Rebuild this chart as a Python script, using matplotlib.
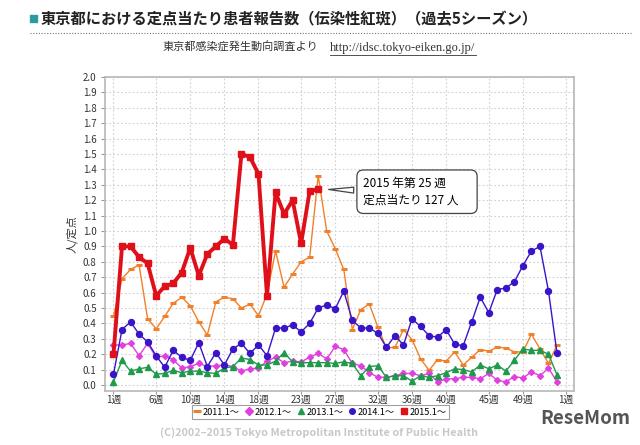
import matplotlib.pyplot as plt
from matplotlib.lines import Line2D
from matplotlib.patches import Rectangle
import numpy as np

plt.rcParams['font.family'] = ['Noto Sans CJK JP', 'DejaVu Sans']

# 週ごとの定点当たり報告数（1週〜53週）
s2011 = [0.445, 0.69, 0.75, 0.78, 0.43, 0.365, 0.445, 0.53, 0.57, 0.515, 0.41, 0.325, 0.54,
         0.57, 0.56, 0.50, 0.525, 0.45, 0.59, 0.87, 0.635, 0.72, 0.80, 0.83, 1.36, 1.00,
         0.885, 0.75, 0.36, 0.49, 0.525, 0.375, 0.24, 0.245, 0.36, 0.295, 0.17, 0.095,
         0.165, 0.155, 0.215, 0.13, 0.18, 0.23, 0.22, 0.245, 0.24, 0.215, 0.215, 0.33,
         0.235, 0.14, 0.26]
s2012 = [0.26, 0.26, 0.27, 0.19, 0.27, 0.18, 0.19, 0.165, 0.11, 0.12, 0.14, 0.12, 0.125,
         0.13, 0.12, 0.09, 0.105, 0.11, 0.155, 0.18, 0.145, 0.155, 0.15, 0.18, 0.205, 0.17,
         0.25, 0.23, 0.14, 0.125, 0.08, 0.05, 0.05, 0.06, 0.075, 0.075, 0.06, 0.075, 0.02,
         0.04, 0.04, 0.05, 0.05, 0.04, 0.075, 0.03, 0.02, 0.055, 0.045, 0.085, 0.06, 0.11,
         0.02]
s2013 = [0.02, 0.16, 0.09, 0.105, 0.115, 0.07, 0.075, 0.095, 0.08, 0.09, 0.09, 0.08, 0.075,
         0.11, 0.12, 0.175, 0.165, 0.13, 0.13, 0.155, 0.21, 0.15, 0.145, 0.145, 0.145, 0.145,
         0.14, 0.15, 0.14, 0.06, 0.12, 0.125, 0.05, 0.06, 0.06, 0.025, 0.06, 0.05, 0.06,
         0.08, 0.105, 0.10, 0.085, 0.13, 0.105, 0.13, 0.09, 0.16, 0.235, 0.225, 0.225, 0.20,
         0.065]
s2014 = [0.07, 0.36, 0.41, 0.33, 0.28, 0.19, 0.115, 0.225, 0.18, 0.16, 0.275, 0.12, 0.21,
         0.13, 0.235, 0.27, 0.205, 0.26, 0.19, 0.37, 0.37, 0.39, 0.345, 0.40, 0.50, 0.52,
         0.495, 0.61, 0.42, 0.37, 0.37, 0.335, 0.245, 0.32, 0.26, 0.43, 0.38, 0.32, 0.31,
         0.36, 0.265, 0.255, 0.41, 0.57, 0.47, 0.62, 0.63, 0.67, 0.775, 0.87, 0.90, 0.61,
         0.205]
s2015 = [0.20, 0.90, 0.90, 0.83, 0.79, 0.58, 0.64, 0.66, 0.73, 0.89, 0.71, 0.85, 0.90,
         0.95, 0.91, 1.50, 1.48, 1.37, 0.58, 1.25, 1.11, 1.20, 0.92, 1.26, 1.27]

labels = ['2011.1～', '2012.1～', '2013.1～', '2014.1～', '2015.1～']
tick_weeks = [1, 6, 10, 14, 18, 23, 27, 32, 36, 40, 45, 49, 54]
tick_labels = ['1週', '6週', '10週', '14週', '18週', '23週', '27週', '32週', '36週',
               '40週', '45週', '49週', '1週']

fig = plt.figure(figsize=(6.4, 4.45), dpi=100)
ax = fig.add_axes([0.164, 0.121, 0.733, 0.706])

styles = [
    dict(color='#f0802a', marker='_', ms=4.5, mew=2.2, lw=1.0),
    dict(color='#e040e0', marker='D', ms=3, lw=1.0),
    dict(color='#1f9a4a', marker='^', ms=3.8, lw=1.0),
    dict(color='#3a14c8', marker='o', ms=4.3, lw=1.0),
    dict(color='#e0101a', marker='s', ms=4.3, lw=2.8),
]
series = [s2011, s2012, s2013, s2014, s2015]
for data, st in zip(series, styles):
    x = np.arange(1, len(data) + 1)
    ax.plot(x, data, **st, zorder=3)

ax.set_xlim(0, 55)
ax.set_ylim(-0.04, 2.0)
ax.set_yticks(np.arange(0, 2.01, 0.1))
ax.set_yticklabels(['%.1f' % v for v in np.arange(0, 2.01, 0.1)], fontsize=7, color='#333333')
ax.set_xticks(tick_weeks)
ax.set_xticklabels(tick_labels, fontsize=7, color='#333333')
ax.tick_params(axis='y', length=3, color='#999999', pad=3)
ax.tick_params(axis='x', length=2, color='#999999', pad=1)
ax.grid(True, linestyle=(0, (1.5, 2)), color='#d0d0d0', lw=0.8)
for sp in ax.spines.values():
    sp.set_color('#b8b8b8')
    sp.set_linewidth(1.2)
ax.set_ylabel('人/定点', fontsize=8, color='#333333', labelpad=4)

# 吹き出し
ax.annotate('2015 年第 25 週\u3000\u3000\n定点当たり 127 人\u3000', xy=(25.9, 1.27),
            xytext=(30.3, 1.255),
            fontsize=8.5, va='center', ha='left', linespacing=1.45,
            bbox=dict(boxstyle='round,pad=0.55', fc='white', ec='#444444', lw=0.9),
            arrowprops=dict(arrowstyle='wedge,tail_width=0.5', fc='white', ec='#444444', lw=0.9),
            zorder=5)

handles = [Line2D([], [], linestyle='none', color=st['color'], marker=st['marker'],
                  ms=5.5 if st['marker'] == '_' else 4, mew=2.2 if st['marker'] == '_' else 1)
           for st in styles]
leg = fig.legend(handles, labels, loc='center', bbox_to_anchor=(0.501, 0.074), ncol=5,
                 fontsize=6.6, frameon=True, fancybox=False, handlelength=0.6,
                 handletextpad=0.3, columnspacing=0.7, borderpad=0.3, borderaxespad=0)
leg.get_frame().set_edgecolor('#888888')
leg.get_frame().set_linewidth(0.8)

fig.text(0.499, 0.027, '(C)2002–2015 Tokyo Metropolitan Institute of Public Health',
         ha='center', va='center', fontsize=7.8, color='#c8c8c8', fontweight='bold')

# タイトル
for dx, dy in [(0, 0), (0.0065, 0), (0, 0.009), (0.0065, 0.009)]:
    fig.add_artist(Rectangle((0.047 + dx, 0.951 + dy), 0.0045, 0.0065,
                             transform=fig.transFigure, color='#2a9aa0'))
fig.text(0.063, 0.957, '東京都における定点当たり患者報告数（伝染性紅斑）（過去5シーズン）',
         fontsize=11, fontweight='bold', color='#222222', va='center', ha='left')
fig.add_artist(Line2D([0.047, 0.988], [0.925, 0.925], color='#777777', lw=0.8,
                      linestyle=(0, (1, 1.5))))
fig.text(0.497, 0.893, '東京都感染症発生動向調査より', fontsize=8, color='#333333',
         ha='right', va='center')
fig.text(0.516, 0.893, 'http://idsc.tokyo-eiken.go.jp/', fontsize=9, color='#333333',
         ha='left', va='center', family='Liberation Serif')
fig.add_artist(Line2D([0.516, 0.743], [0.877, 0.877], color='#333333', lw=0.6))

fig.text(0.985, 0.06, 'ReseMom', fontsize=13.5, fontweight='bold', color='#555555',
         ha='right', va='center')

fig.savefig('out.png', dpi=100)
